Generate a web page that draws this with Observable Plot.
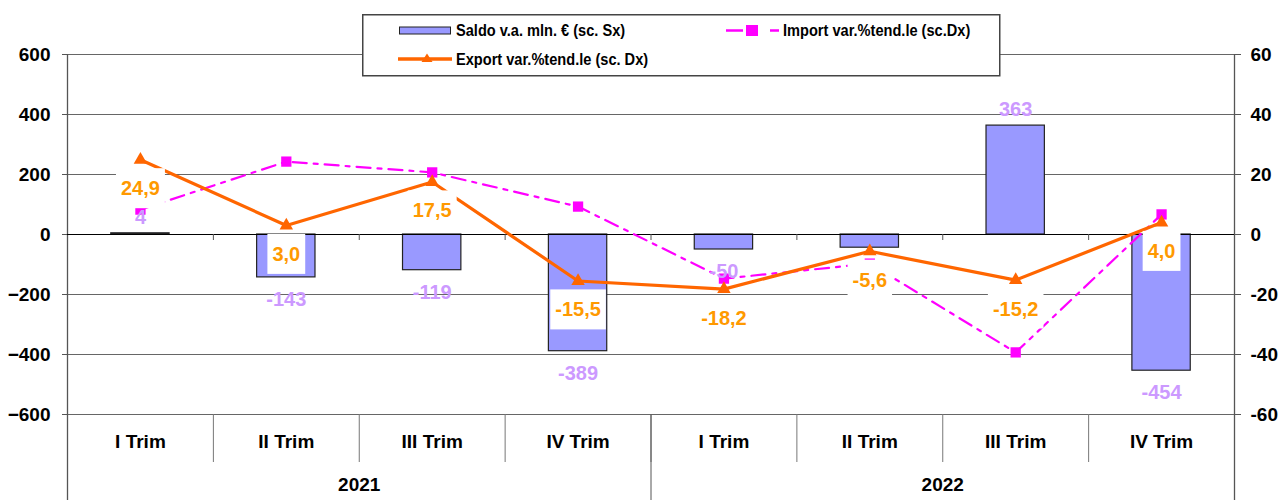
<!DOCTYPE html>
<html>
<head>
<meta charset="utf-8">
<script src="https://cdn.jsdelivr.net/npm/d3@7"></script>
<script src="https://cdn.jsdelivr.net/npm/@observablehq/plot@0.6"></script>
<style>
  body { margin: 0; background: #fff; font-family: "Liberation Sans", Arial, sans-serif; }
  #wrap { position: relative; width: 1280px; height: 500px; }
  #legend { position: absolute; left: 362px; top: 14px; }
  #legend text { font-family: "Liberation Sans", Arial, sans-serif; font-weight: bold; font-size: 14.6px; fill: #000; }
</style>
</head>
<body>
<div id="wrap">
  <svg id="legend" width="640" height="64">
    <rect x="0.75" y="0.75" width="637" height="61" fill="#fff" stroke="#444" stroke-width="1.5"></rect>
    <rect x="37.5" y="13" width="51" height="7" fill="#9999FF" stroke="#222" stroke-width="1"></rect>
    <g transform="translate(94,22) scale(1,1.18)"><text x="0" y="0">Saldo v.a. mln. € (sc. Sx)</text></g>
    <line x1="364" y1="16.5" x2="418" y2="16.5" stroke="#FF00FF" stroke-width="2.5" stroke-dasharray="17,27,9"></line>
    <rect x="384" y="11" width="12" height="11" fill="#FF00FF"></rect>
    <g transform="translate(421,22) scale(1,1.18)"><text x="0" y="0">Import var.%tend.le (sc.Dx)</text></g>
    <line x1="36" y1="45" x2="90" y2="45" stroke="#FF6600" stroke-width="3.5"></line>
    <path d="M65,39.5 L70.5,48 L59.5,48 Z" fill="#FF6600"></path>
    <g transform="translate(94,50.5) scale(1,1.18)"><text x="0" y="0">Export var.%tend.le (sc. Dx)</text></g>
  </svg>
</div>
<script>
// ---- data ----
const quarters = ["I Trim", "II Trim", "III Trim", "IV Trim", "I Trim", "II Trim", "III Trim", "IV Trim"];
const years = ["2021", "2022"];
const saldo = [4, -143, -119, -389, -50, -44, 363, -454];            // mln € (left axis)
const saldoLabels = ["4", "-143", "-119", "-389", "-50", "", "363", "-454"]; // "" = label hidden in the original
const importVar = [8.3, 24.3, 20.7, 9.3, -14.7, -9.7, -39.3, 6.7];   // % (right axis)
const exportVar = [24.9, 3.0, 17.5, -15.5, -18.2, -5.6, -15.2, 4.0]; // % (right axis)
const leftTicks = [-600, -400, -200, 0, 200, 400, 600];
const rightTicks = [-60, -40, -20, 0, 20, 40, 60];

// ---- derived ----
const k = 10; // right-axis to left-axis factor
const idx = d3.range(quarters.length);
const boundaries = idx.slice(1).map(i => i - 0.5);
const yearSplit = quarters.length / years.length;
const yearSep = years.slice(1).map((y, j) => (j + 1) * yearSplit - 0.5);
const edges = [-0.5, quarters.length - 0.5];
const bars = saldo.map((v, i) => ({i, v, label: saldoLabels[i]}));
const imp = importVar.map((v, i) => ({i, v: v * k}));
const exp = exportVar.map((v, i) => ({i, v: v * k, raw: v}));
const fmt = v => v.toFixed(1).replace(".", ",");
const yBottom = -600, unitsPerPx = 1200 / 360;

const chart = Plot.plot({
  width: 1280,
  height: 500,
  marginLeft: 67,
  marginRight: 46,
  marginTop: 54,
  marginBottom: 86,
  style: {fontFamily: "'Liberation Sans', Arial, sans-serif", fontSize: "19px", fontWeight: "bold", background: "transparent", overflow: "visible"},
  x: {domain: edges, axis: null},
  y: {domain: [-600, 600], axis: null},
  marks: [
    Plot.ruleY(leftTicks.filter(t => t !== 0), {stroke: "#666", strokeWidth: 1}),
    // category separators below the frame
    Plot.ruleX(boundaries, {y1: yBottom, y2: yBottom - 48 * unitsPerPx, stroke: "#777"}),
    Plot.ruleX(yearSep, {y1: yBottom, y2: yBottom - 86 * unitsPerPx, stroke: "#555"}),
    Plot.ruleX(edges, {y1: 600, y2: yBottom - 86 * unitsPerPx, stroke: "#555", strokeWidth: 1.3}),
    // bars
    Plot.rectY(bars, {x1: d => d.i - 0.2, x2: d => d.i + 0.2, y1: 0, y2: "v", fill: "#9999FF", stroke: "#222", strokeWidth: 1.2}),
    Plot.ruleY([0], {stroke: "#000", strokeWidth: 1}),
    Plot.ruleX(boundaries, {y1: 0, y2: -6 * unitsPerPx, stroke: "#555"}),
    // axes
    Plot.axisY(leftTicks, {anchor: "left", tickSize: 5, tickPadding: 12, label: null, stroke: "#555"}),
    Plot.axisY(rightTicks.map(t => t * k), {anchor: "right", tickSize: 6, tickPadding: 10, tickFormat: d => d / k, label: null, stroke: "#555"}),
    Plot.text(quarters, {x: (d, i) => i, frameAnchor: "bottom", dy: 33, fill: "#000"}),
    Plot.text(years, {x: (d, j) => j * yearSplit + (yearSplit - 1) / 2, frameAnchor: "bottom", dy: 76, fill: "#000"}),
    // import line
    Plot.line(imp, {x: "i", y: "v", stroke: "#FF00FF", strokeWidth: 2.2, strokeDasharray: "14,7,4,7"}),
    Plot.dot(imp, {x: "i", y: "v", symbol: "square", r: 5.8, fill: "#FF00FF", stroke: "none"}),
    // export line
    Plot.line(exp, {x: "i", y: "v", stroke: "#FF6600", strokeWidth: 3.2}),
    Plot.dot(exp, {x: "i", y: "v", symbol: "triangle", r: 5, fill: "#FF6600", stroke: "none"}),
    // bar labels
    Plot.text(bars, {filter: d => d.v >= 0 && d.label, x: "i", y: "v", text: "label", dy: -16, fill: "#CC99FF", fontSize: 20}),
    Plot.text(bars, {filter: d => d.v < 0 && d.label, x: "i", y: "v", text: "label", dy: 22, fill: "#CC99FF", fontSize: 20}),
    // export labels
    Plot.text(exp, {x: "i", y: "v", text: d => fmt(d.raw), dy: 29, fill: "#FF9900", fontSize: 20, ariaLabel: () => "export-label"})
  ]
});

document.getElementById("wrap").insertBefore(chart, document.getElementById("legend"));

// white boxes behind export labels
const svgRect = chart.getBoundingClientRect();
const labels = chart.querySelectorAll('text[aria-label="export-label"]');
if (labels.length) {
  const ns = "http://www.w3.org/2000/svg";
  const g = labels[0].parentNode;
  const boxes = document.createElementNS(ns, "g");
  labels.forEach(t => {
    const b = t.getBoundingClientRect();
    const r = document.createElementNS(ns, "rect");
    r.setAttribute("x", b.left - svgRect.left - 5);
    r.setAttribute("y", b.top - svgRect.top + b.height / 2 - 20);
    r.setAttribute("width", b.width + 10);
    r.setAttribute("height", 40);
    r.setAttribute("fill", "#fff");
    boxes.appendChild(r);
  });
  g.parentNode.insertBefore(boxes, g);
}
</script>
</body>
</html>
